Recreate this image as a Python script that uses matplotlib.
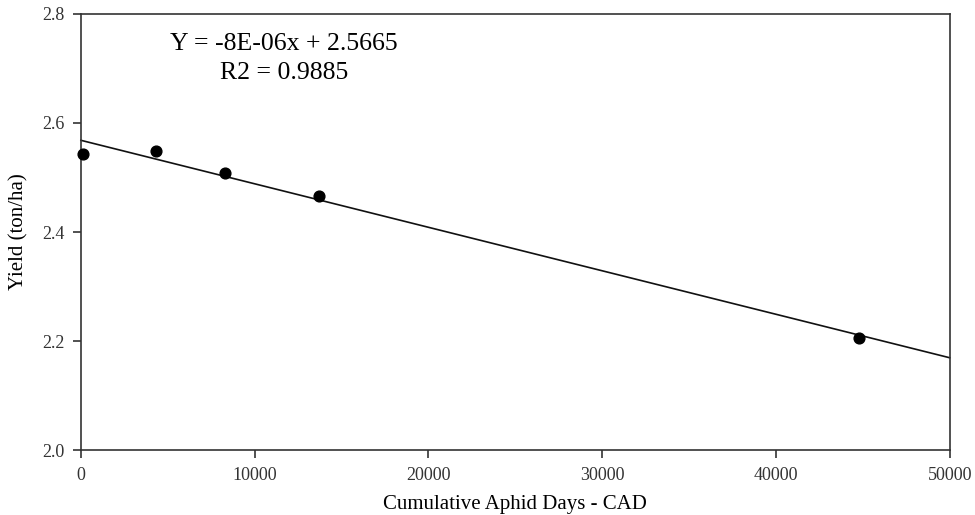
import numpy as np
import matplotlib.pyplot as plt

plt.rcParams['font.family'] = ['Liberation Serif', 'DejaVu Serif']

# cumulative aphid days vs yield
cad = [100, 4300, 8300, 13700, 44800]
yield_t = [2.543, 2.549, 2.509, 2.466, 2.206]
xticks = [0, 10000, 20000, 30000, 40000, 50000]
yticks = [2.0, 2.2, 2.4, 2.6, 2.8]

fig = plt.figure(figsize=(9.75, 5.15), dpi=100)
ax = fig.add_axes([0.083, 0.126, 0.891, 0.847])

slope, intercept = np.polyfit(cad, yield_t, 1)
xl = np.array([0, 50000])
ax.plot(xl, slope * xl + intercept, color='#111111', lw=1.2, clip_on=False)
ax.scatter(cad, yield_t, s=60, color='black', zorder=3, clip_on=False)

ax.set_xlim(0, 50000)
ax.set_ylim(2.0, 2.8)
ax.set_xticks(xticks)
ax.set_yticks(yticks)
ax.set_yticklabels(['%.1f' % v for v in yticks])
ax.tick_params(direction='out', length=6, width=1.2, labelsize=13, colors='#333333',
               top=False, right=False, pad=6)
for s in ax.spines.values():
    s.set_linewidth(1.2)
    s.set_color('#333333')

ax.set_xlabel('Cumulative Aphid Days - CAD', fontsize=15, labelpad=8)
ax.set_ylabel('Yield (ton/ha)', fontsize=15, labelpad=10)

ax.text(11700, 2.745, 'Y = -8E-06x + 2.5665', fontsize=18.5, ha='center', va='center')
ax.text(11700, 2.692, 'R2 = 0.9885', fontsize=18.5, ha='center', va='center')

fig.savefig('out.png', dpi=100)
